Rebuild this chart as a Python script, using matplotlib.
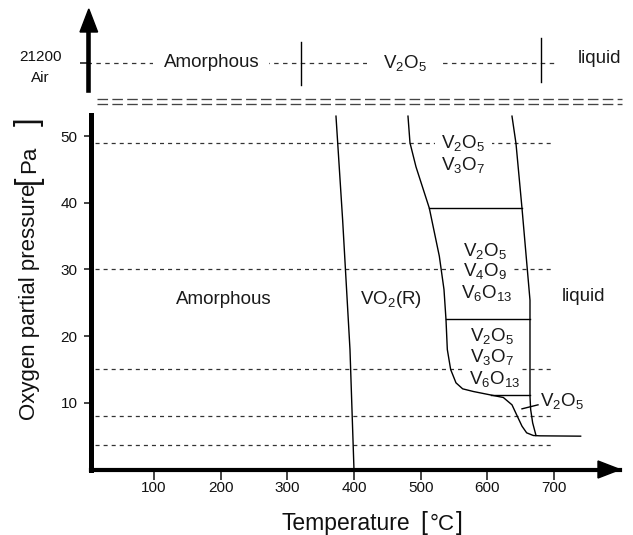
import matplotlib.pyplot as plt
from matplotlib.patches import Polygon
from matplotlib.lines import Line2D
from matplotlib.transforms import IdentityTransform

plt.rcParams['font.family'] = ['Liberation Sans', 'DejaVu Sans']
plt.rcParams['mathtext.fontset'] = 'custom'
plt.rcParams['mathtext.rm'] = 'Liberation Sans'
plt.rcParams['mathtext.default'] = 'regular'
plt.rcParams['lines.scale_dashes'] = False

W, H = 633, 535
PX = IdentityTransform()

# ---- data ----
air_pressure = 21200
pressure_levels = [49, 30, 15, 8, 3.6]
level_end = 700

vo2_T = [373, 383, 394, 400]
vo2_P = [53, 37.4, 18, 0]

solidus_T = [481, 484, 493, 513, 528, 535, 538, 540, 545, 553, 563, 579, 604, 624,
             637, 644, 652, 659, 669, 679, 740]
solidus_P = [53, 49, 45.4, 39.2, 32, 27, 22.5, 18, 15, 13, 12.1, 11.7, 11.2, 10.8,
             9.7, 8.2, 6.5, 5.5, 5.1, 5.05, 5.0]

liquidus_T = [637, 643, 652, 660, 664, 664, 665, 668, 673]
liquidus_P = [53, 48.9, 39.2, 30, 25.4, 11, 9, 7, 5.1]

tie_P = [39.2, 22.6, 11.1]
tie_start = [513, 538, 606]
tie_end = [652, 664, 664]

v2o5_mark_T = [652, 676]
v2o5_mark_P = [9.1, 9.7]

main_text = ['Amorphous', 'VO$_2$(R)', 'liquid',
             'V$_2$O$_5$', 'V$_3$O$_7$',
             'V$_2$O$_5$', 'V$_4$O$_9$', 'V$_6$O$_{13}$',
             'V$_2$O$_5$', 'V$_3$O$_7$', 'V$_6$O$_{13}$']
main_T = [204, 455, 744, 564, 564, 597, 597, 599, 607, 607, 611]
main_P = [25.5, 25.5, 25.9, 49.0, 45.7, 32.7, 29.7, 26.5, 20.0, 16.8, 13.5]
# labels that sit on a dashed level get a white backing
main_boxed = [False, False, False, True, False, False, True, False, False, True, False]

air_bounds = [321, 680]
air_text = ['Amorphous', 'V$_2$O$_5$', 'liquid']
air_T = [186, 477, 769]

x_ticks = [100, 200, 300, 400, 500, 600, 700]
y_ticks = [10, 20, 30, 40, 50]

# ---- layout (pixels) ----
px_per_deg = 0.6667
x_zero = 87.3
ax_left, ax_right, ax_bottom, ax_top = 90.6, 620, 469.5, 115

fig = plt.figure(figsize=(W / 100, H / 100), dpi=100)
ax = fig.add_axes([ax_left / W, 1 - ax_bottom / H, (ax_right - ax_left) / W,
                   (ax_bottom - ax_top) / H])
ax.set_xlim((ax_left - x_zero) / px_per_deg, (ax_right - x_zero) / px_per_deg)
ax.set_ylim(0, (ax_bottom - ax_top) / 6.667)

for s in ['top', 'right']:
    ax.spines[s].set_visible(False)
ax.spines['left'].set_linewidth(3.6)
ax.spines['bottom'].set_linewidth(3.0)
ax.set_xticks(x_ticks)
ax.set_yticks(y_ticks)
ax.tick_params(axis='x', direction='out', length=7, width=1.1, pad=1.5,
               labelsize=11, colors='#111111')
ax.tick_params(axis='y', direction='out', length=5, width=1.1, pad=4.5,
               labelsize=11, colors='#111111')

dash_kw = dict(color='#333333', lw=0.9, dashes=(2.9, 2.9), zorder=1)
for p in pressure_levels:
    ax.plot([0, level_end], [p, p], **dash_kw)

line_kw = dict(color='black', lw=1.0, zorder=3)
ax.plot(vo2_T, vo2_P, **line_kw)
ax.plot(solidus_T, solidus_P, **line_kw)
ax.plot(liquidus_T, liquidus_P, **line_kw)
for p, a, b in zip(tie_P, tie_start, tie_end):
    ax.plot([a, b], [p, p], **line_kw)
ax.plot(v2o5_mark_T, v2o5_mark_P, **line_kw)

for s, t, p, boxed in zip(main_text, main_T, main_P, main_boxed):
    kw = dict(ha='center', va='center', fontsize=13.5, color='#1a1a1a', zorder=2.5)
    if boxed:
        kw['bbox'] = dict(boxstyle='square,pad=0.35', fc='white', ec='none')
        kw['zorder'] = 2.2
    ax.text(t, p, s, **kw)
ax.text(679, 10.2, 'V$_2$O$_5$', ha='left', va='center', fontsize=13.5, color='#1a1a1a')

# break symbol between the two panels
brk_kw = dict(color='#444444', lw=0.95, dashes=(7.6, 3.1), transform=PX)
for yy in [99, 104.3]:
    fig.add_artist(Line2D([97, 622], [H - yy, H - yy], **brk_kw))

# arrowheads
fig.add_artist(Polygon([(598, H - 461), (620, H - 469.5), (598, H - 478)],
                       closed=True, fc='black', ec='black', transform=PX))
fig.add_artist(Polygon([(80, H - 32), (88.8, H - 9), (97.6, H - 32)],
                       closed=True, fc='black', ec='black', transform=PX))

# ---- top panel: air ----
t_left, t_bottom, t_top = 88.3, 90, 32
at = fig.add_axes([t_left / W, 1 - t_bottom / H, (ax_right - t_left) / W,
                   (t_bottom - t_top) / H])
at.set_xlim((t_left - x_zero) / px_per_deg, (ax_right - x_zero) / px_per_deg)
k = 100
at.set_ylim(air_pressure - (t_bottom - 62.7) * k, air_pressure + (62.7 - t_top) * k)
for s in ['top', 'right', 'bottom']:
    at.spines[s].set_visible(False)
at.spines['left'].set_linewidth(3.3)
at.set_xticks([])
at.set_yticks([air_pressure])
at.set_yticklabels([f'{air_pressure}\nAir'])
at.tick_params(axis='y', direction='out', length=6, width=1.1, pad=13,
               labelsize=11, colors='#111111')
for lab in at.get_yticklabels():
    lab.set_linespacing(1.65)
    lab.set_multialignment('center')
at.patch.set_alpha(0)

at.plot([0, 701], [air_pressure, air_pressure], color='#333333', lw=0.9,
        dashes=(3.2, 3.2), zorder=1)
at.axvline(air_bounds[0], ymin=0.086, ymax=0.83, color='black', lw=1.0, zorder=3)
at.axvline(air_bounds[1], ymin=0.138, ymax=0.897, color='black', lw=1.0, zorder=3)
pads = [0.55, 0.85, 0.3]
for s, t, pd in zip(air_text, air_T, pads):
    kw = dict(ha='center', va='center', fontsize=13.5, color='#1a1a1a', zorder=2.5)
    if s != 'liquid':
        kw['bbox'] = dict(boxstyle=f'square,pad={pd}', fc='white', ec='none')
        at.text(t, air_pressure, s, **kw)
    else:
        at.text(t, air_pressure + 450, s, **kw)

# ---- axis titles with large brackets ----
tc = '#111111'
fig.text(282, H - 530, 'Temperature', transform=PX, fontsize=16.5, ha='left',
         va='baseline', color=tc)
fig.text(420, H - 530, '[', transform=PX, fontsize=18, ha='left', va='baseline', color=tc)
fig.text(442.5, H - 530, '°C', transform=PX, fontsize=16, ha='center',
         va='baseline', color=tc)
fig.text(463, H - 530, ']', transform=PX, fontsize=18, ha='right', va='baseline', color=tc)

rot = dict(rotation=90, rotation_mode='anchor', va='baseline', transform=PX, color=tc)
fig.text(35.5, H - 420, 'Oxygen partial pressure', fontsize=16, ha='left', **rot)
fig.text(36.3, H - 184, '[', fontsize=22, ha='left', **rot)
fig.text(35.5, H - 159, 'Pa', fontsize=16, ha='center', **rot)
fig.text(36.3, H - 117, ']', fontsize=22, ha='right', **rot)

fig.savefig('out.png', dpi=100)
